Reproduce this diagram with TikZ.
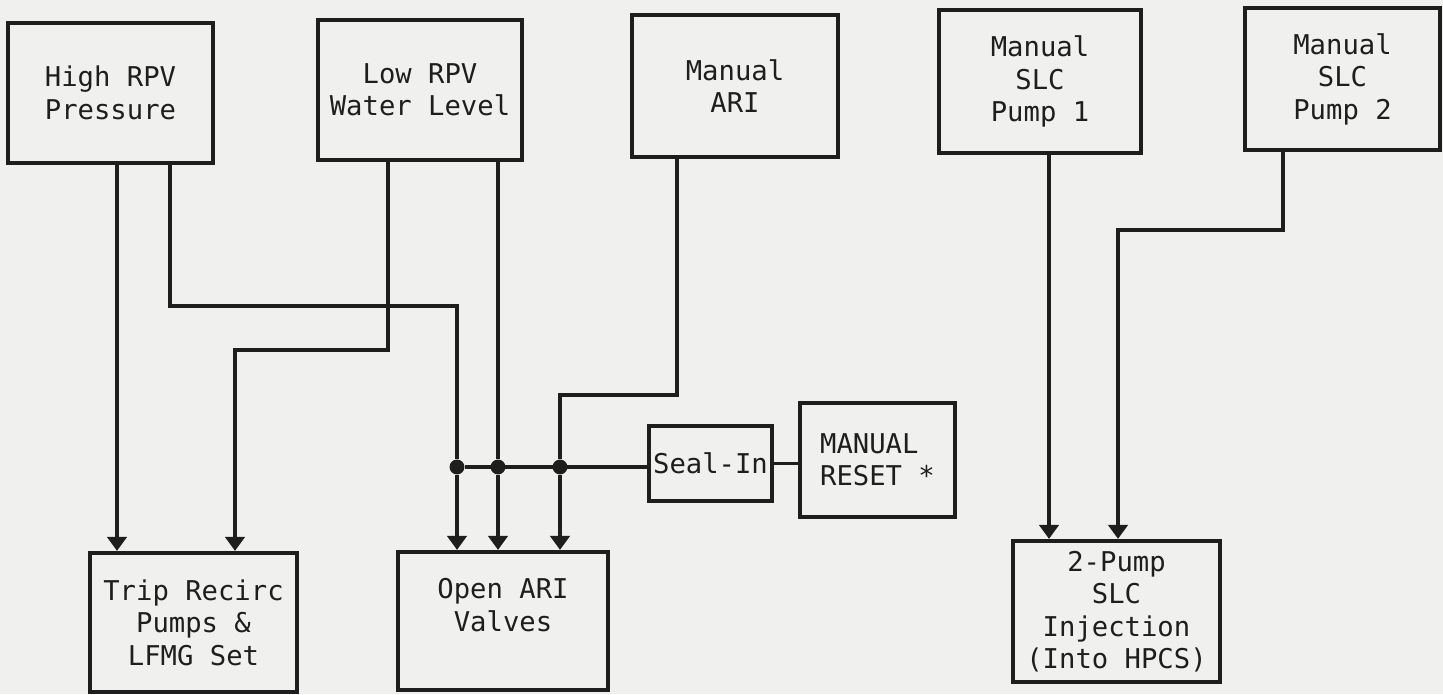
\documentclass[tikz,border=0pt]{standalone}
\usepackage{fontspec}
\setmonofont{DejaVu Sans Mono}
\usepackage{xcolor}
\usepackage{tikz}
\usetikzlibrary{arrows.meta}
\definecolor{paper}{RGB}{240,240,238}
\definecolor{ink}{RGB}{30,30,30}
\tikzset{
  blk/.style={rectangle, draw=ink, text=ink, line width=2.4pt, inner sep=0pt,
              font=\ttfamily\fontsize{15.5}{18.5}\selectfont, align=center},
  sig/.style={draw=ink, line width=2.1pt},
  sigarr/.style={sig, -{Triangle[width=11pt, length=8pt]}},
  jn/.style={circle, fill=ink, inner sep=0pt, minimum size=8.5pt}
}

\begin{document}
\begin{tikzpicture}[x=0.02cm, y=-0.02cm]
  \fill[paper] (0,0) rectangle (1443,694);
  \useasboundingbox (0,0) rectangle (1443,694);
  % trip signals
  \node[blk, minimum width=4.1cm, minimum height=2.8cm] (HighP) at (110.5,93) {High RPV\\Pressure};
  \node[blk, minimum width=4.08cm, minimum height=2.8cm] (LowW) at (420,90) {Low RPV\\Water Level};
  \node[blk, minimum width=4.12cm, minimum height=2.84cm] (ManARI) at (735,86) {Manual\\ARI};
  \node[blk, minimum width=4.04cm, minimum height=2.86cm] (SLC1) at (1040,81.5) {Manual\\SLC\\Pump 1};
  \node[blk, minimum width=3.9cm, minimum height=2.84cm] (SLC2) at (1342.5,79) {Manual\\SLC\\Pump 2};
  % actions
  \node[blk, minimum width=4.14cm, minimum height=2.78cm] (Trip) at (193.5,622.5) {Trip Recirc\\Pumps \&\\LFMG Set};
  \node[blk, minimum width=4.2cm, minimum height=2.76cm] (OpenARI) at (503,621) {Open ARI\\Valves\\ ~};
  \node[blk, minimum width=2.46cm, minimum height=1.5cm] (SealIn) at (710.5,463.5) {Seal-In};
  \node[blk, minimum width=3.1cm, minimum height=2.28cm, align=left] (Reset) at (877.5,460) {MANUAL\\RESET *};
  \node[blk, minimum width=4.14cm, minimum height=2.82cm] (Inj) at (1116.5,611.5) {2-Pump\\SLC\\Injection\\(Into HPCS)};
  % junctions
  \node[jn] (J1) at (457,467) {};
  \node[jn] (J2) at (498,467) {};
  \node[jn] (J3) at (560,467) {};

  \draw[sigarr] (117,0 |- HighP.south) -- (117,0 |- Trip.north);
  \draw[sigarr] (170,0 |- HighP.south) -- (170,306) -| (J1) -- (J1 |- OpenARI.north);
  \draw[sigarr] (388,0 |- LowW.south) -- (388,350) -| (235,0 |- Trip.north);
  \draw[sigarr] (J2 |- LowW.south) -- (J2) -- (J2 |- OpenARI.north);
  \draw[sigarr] (677,0 |- ManARI.south) -- (677,395) -| (J3) -- (J3 |- OpenARI.north);
  \draw[sig] (J1) -- (J1 -| SealIn.west);
  \draw[sig] (SealIn.east) -- (SealIn.east -| Reset.west);
  \draw[sigarr] (1049,0 |- SLC1.south) -- (1049,0 |- Inj.north);
  \draw[sigarr] (1283,0 |- SLC2.south) -- (1283,230) -| (1118,0 |- Inj.north);
\end{tikzpicture}
\end{document}
